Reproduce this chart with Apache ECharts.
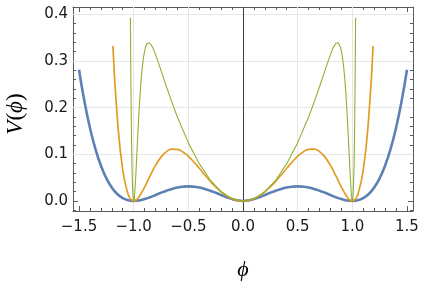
<!DOCTYPE html>
<html>
<head>
<meta charset="utf-8">
<script src="https://cdn.jsdelivr.net/npm/echarts@6/dist/echarts.min.js"></script>
<style>
html,body{margin:0;padding:0;background:#fff;}
#chart{width:423px;height:286px;}
</style>
</head>
<body>
<div id="chart"></div>
<script>
// ---- data (phi >= 0 half; curves are mirror-symmetric) ----
const phiBlue = [0,0.05,0.1,0.15,0.2,0.25,0.3,0.35,0.4,0.45,0.5,0.55,0.6,0.65,0.7,0.75,0.8,0.85,0.9,0.95,1.0,1.05,1.1,1.15,1.2,1.25,1.3,1.35,1.4,1.45,1.5];
const vBlue   = [0,0.0011,0.0041,0.0081,0.0128,0.0176,0.0221,0.0259,0.0288,0.0306,0.0313,0.0306,0.0288,0.0259,0.0221,0.0176,0.0128,0.0081,0.0041,0.0011,0,0.0014,0.0061,0.0149,0.0288,0.0488,0.0761,0.1116,0.1568,0.2129,0.2813];

const phiOrange = [0,0.05,0.1,0.15,0.2,0.25,0.3,0.35,0.4,0.45,0.5,0.55,0.6,0.65,0.7,0.75,0.8,0.85,0.9,0.95,0.975,1.0,1.025,1.05,1.1,1.15,1.19];
const vOrange   = [0,0.0013,0.0050,0.0112,0.0197,0.0303,0.0426,0.0561,0.0701,0.0836,0.0957,0.1051,0.1106,0.1112,0.1058,0.0940,0.0762,0.0538,0.0297,0.0092,0.0025,0,0.0031,0.0137,0.0663,0.1794,0.3324];

const phiGreen = [0,0.1,0.2,0.3,0.4,0.5,0.6,0.65,0.7,0.75,0.8,0.82,0.83,0.84,0.85,0.86,0.87,0.88,0.89,0.9,0.91,0.92,0.93,0.94,0.95,0.96,0.97,0.98,0.99,0.995,1.0,1.005,1.01,1.015,1.02,1.025,1.03];
const vGreen   = [0,0.005,0.02,0.045,0.08,0.125,0.18,0.2112,0.2447,0.2799,0.3141,0.3259,0.3308,0.3349,0.3378,0.3393,0.3389,0.3362,0.3305,0.3212,0.3077,0.2890,0.2646,0.2337,0.1962,0.1527,0.1050,0.0574,0.0178,0.0050,0,0.0062,0.0276,0.0694,0.1383,0.2426,0.3927];

const xTicks = [-1.5,-1.0,-0.5,0,0.5,1.0,1.5];
const xMinorTicks = [-1.4,-1.3,-1.2,-1.1,-0.9,-0.8,-0.7,-0.6,-0.4,-0.3,-0.2,-0.1,0.1,0.2,0.3,0.4,0.6,0.7,0.8,0.9,1.1,1.2,1.3,1.4];
const yTicks = [0,0.1,0.2,0.3,0.4];
const yMinorTicks = [-0.02,0.02,0.04,0.06,0.08,0.12,0.14,0.16,0.18,0.22,0.24,0.26,0.28,0.32,0.34,0.36,0.38];
const xGrid = [-1.0,-0.5,0.5,1.0];
const yGrid = [0.1,0.2,0.3,0.4];

// ---- build mirrored point lists ----
function mirror(xs, ys){
  const pts = [];
  for (let i = xs.length - 1; i >= 1; i--) pts.push([-xs[i], ys[i]]);
  for (let i = 0; i < xs.length; i++) pts.push([xs[i], ys[i]]);
  return pts;
}

const X_MIN = -1.555, X_MAX = 1.555, Y_MIN = -0.0214, Y_MAX = 0.4156;
const frameColor = '#5a5a5a';
const labelFont = {fontFamily:'DejaVu Sans', fontSize:15, color:'#1a1a1a'};
const fmt = v => { const s = (Math.round(v*10)/10).toFixed(1); return s.replace('-', '\u2212'); };

function xAx(pos, ticks, len, showLine, showLabel){
  return {type:'value', min:X_MIN, max:X_MAX, position:pos,
    axisLine:{show:showLine, onZero:false, lineStyle:{color:frameColor, width:1}},
    axisTick:{show:true, inside:true, length:len, customValues:ticks, lineStyle:{color:frameColor, width:1}},
    axisLabel:{show:showLabel, customValues:ticks, formatter:fmt, margin:9, ...labelFont},
    splitLine:{show:false}};
}
function yAx(pos, ticks, len, showLine, showLabel){
  return {type:'value', min:Y_MIN, max:Y_MAX, position:pos,
    axisLine:{show:showLine, onZero:false, lineStyle:{color:frameColor, width:1}},
    axisTick:{show:true, inside:true, length:len, customValues:ticks, lineStyle:{color:frameColor, width:1}},
    axisLabel:{show:showLabel, customValues:ticks, formatter:fmt, margin:5, ...labelFont},
    splitLine:{show:false}};
}

const gridLineStyle = {color:'#e6e6e6', width:1, type:'solid'};
const chart = echarts.init(document.getElementById('chart'), null, {renderer:'canvas'});
chart.setOption({
  animation:false,
  backgroundColor:'#ffffff',
  grid:{left:73, right:10, top:7, bottom:75, containLabel:false},
  xAxis:[
    xAx('bottom', xTicks, 5, true, true),
    xAx('bottom', xMinorTicks, 3, false, false),
    xAx('top', xTicks, 5, true, false),
    xAx('top', xMinorTicks, 3, false, false)
  ],
  yAxis:[
    yAx('left', yTicks, 5, true, true),
    yAx('left', yMinorTicks, 3, false, false),
    yAx('right', yTicks, 5, true, false),
    yAx('right', yMinorTicks, 3, false, false)
  ],
  graphic:[
    {type:'text', id:'ytitle', x:16, y:114, rotation:Math.PI/2, silent:true,
     style:{text:'{i|V}{n|(}{i|ϕ}{n|)}', align:'center', verticalAlign:'middle',
     rich:{i:{fontFamily:'Liberation Serif', fontStyle:'italic', fontSize:23, fill:'#000'},
           n:{fontFamily:'Liberation Serif', fontSize:23, fill:'#000'}}}},
    {type:'text', id:'xtitle', x:243, y:270, silent:true,
     style:{text:'ϕ', align:'center', verticalAlign:'middle',
     fontFamily:'Liberation Serif', fontStyle:'italic', fontSize:22, fill:'#000'}}
  ],
  series:[
    {type:'line', xAxisIndex:0, yAxisIndex:0, data:[[0,0]], symbol:'none', z:1,
     lineStyle:{width:0}, silent:true,
     markLine:{silent:true, symbol:['none','none'], z:1, label:{show:false},
       data:[
         ...xGrid.map(v => ({xAxis:v, lineStyle:gridLineStyle})),
         ...yGrid.map(v => ({yAxis:v, lineStyle:gridLineStyle})),
         {xAxis:0, lineStyle:{color:'#3c3c3c', width:1, type:'solid'}}
       ]}},
    {type:'line', xAxisIndex:0, yAxisIndex:0, data:mirror(phiBlue, vBlue), symbol:'none', smooth:true, z:3,
     lineStyle:{color:'#5E81B5', width:2.6}},
    {type:'line', xAxisIndex:0, yAxisIndex:0, data:mirror(phiOrange, vOrange), symbol:'none', smooth:true, z:4,
     lineStyle:{color:'#E19C24', width:1.7}},
    {type:'line', xAxisIndex:0, yAxisIndex:0, data:mirror(phiGreen, vGreen), symbol:'none', smooth:false, z:5,
     lineStyle:{color:'#8FB032', width:1.1}}
  ]
});
</script>
</body>
</html>
